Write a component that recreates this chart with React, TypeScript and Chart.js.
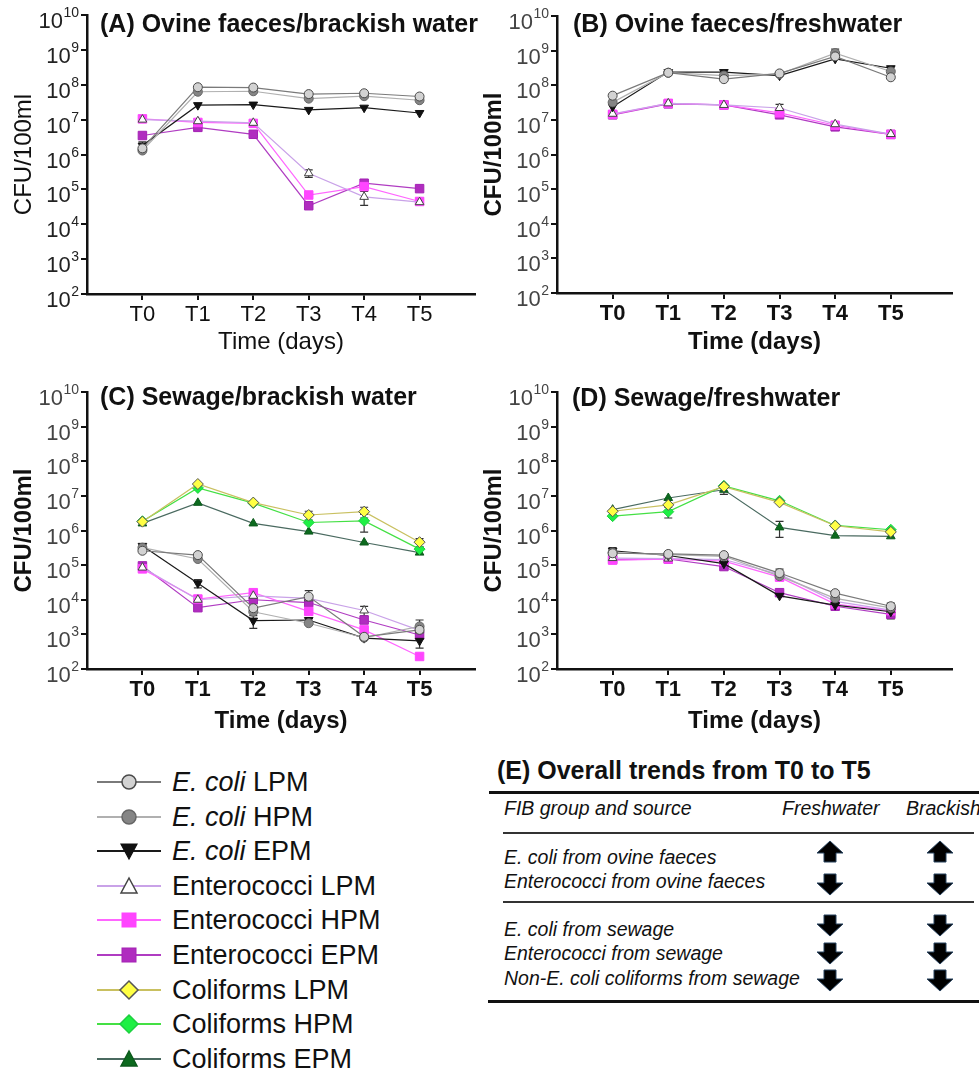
import React, { useEffect, useRef } from 'react';
import { Chart, registerables } from 'chart.js';
Chart.register(...registerables);

const FONT = "'Liberation Sans', Arial, Helvetica, sans-serif";

// ---------- data ----------
const timeLabels = ['T0', 'T1', 'T2', 'T3', 'T4', 'T5'];
const yTickValues = [1e2, 1e3, 1e4, 1e5, 1e6, 1e7, 1e8, 1e9, 1e10];

// (A) Ovine faeces / brackish water
const ecLPM_A = [1.5e6, 8.5e7, 8.3e7, 5.4e7, 5.7e7, 4.6e7];
const ecHPM_A = [1.3e6, 6.3e7, 6.5e7, 4.0e7, 4.7e7, 3.6e7];
const ecEPM_A = [1.8e6, 2.6e7, 2.7e7, 1.9e7, 2.2e7, 1.55e7];
const entLPM_A = [1.0e7, 9.0e6, 8.1e6, 2.9e5, 6.1e4, 4.3e4];
const entHPM_A = [1.05e7, 8.3e6, 7.8e6, 6.9e4, 1.2e5, 4.5e4];
const entEPM_A = [3.5e6, 6.0e6, 3.8e6, 3.4e4, 1.5e5, 1.05e5];
const entLPM_A_err = [null, null, null, 7e4, 2.6e4, null];
const ecEPM_A_err = [5e5, null, null, null, null, null];

// (B) Ovine faeces / freshwater
const ecLPM_B = [5.0e7, 2.3e8, 1.5e8, 2.2e8, 6.8e8, 1.7e8];
const ecHPM_B = [3.2e7, 2.3e8, 1.9e8, 2.1e8, 8.5e8, 2.5e8];
const ecEPM_B = [2.4e7, 2.4e8, 2.4e8, 1.9e8, 5.8e8, 3.1e8];
const entLPM_B = [1.5e7, 3.0e7, 2.7e7, 2.2e7, 7.5e6, 3.9e6];
const entHPM_B = [1.45e7, 3.0e7, 2.7e7, 1.6e7, 7.0e6, 3.8e6];
const entEPM_B = [1.4e7, 2.9e7, 2.7e7, 1.4e7, 6.3e6, 3.8e6];
const ecHPM_B_err = [null, null, null, null, 2.5e8, null];
const entLPM_B_err = [null, null, null, 6e6, null, null];

// (C) Sewage / brackish water
const ecLPM_C = [2.6e5, 1.95e5, 5.7e3, 1.23e4, 8.5e2, 1.35e3];
const ecHPM_C = [3.2e5, 1.5e5, 4.5e3, 2.1e3, 8.0e2, 1.7e3];
const ecEPM_C = [3.6e5, 3.0e4, 2.5e3, 2.6e3, 7.8e2, 6.5e2];
const entLPM_C = [8.5e4, 1.0e4, 1.3e4, 1.1e4, 4.9e3, 1.3e3];
const entHPM_C = [7.8e4, 1.05e4, 1.6e4, 4.6e3, 1.35e3, 2.3e2];
const entEPM_C = [9.5e4, 5.9e3, 1.0e4, 8.3e3, 2.6e3, 9.6e2];
const colLPM_C = [1.8e6, 2.2e7, 6.4e6, 2.8e6, 3.5e6, 4.6e5];
const colHPM_C = [1.85e6, 1.7e7, 6.2e6, 1.7e6, 1.9e6, 2.9e5];
const colEPM_C = [1.6e6, 6.3e6, 1.6e6, 9.3e5, 4.5e5, 2.3e5];
const colLPM_C_err = [null, null, null, 8e5, 1.2e6, 1.2e5];
const colHPM_C_err = [null, null, null, null, 1.0e6, null];
const ecEPM_C_err = [null, 8e3, 1.0e3, null, null, 2.5e2];
const ecLPM_C_err = [null, null, null, 6e3, null, null];
const ecHPM_C_err = [null, null, null, null, null, 9e2];
const entLPM_C_err = [null, null, null, null, 1.5e3, null];

// (D) Sewage / freshwater
const ecLPM_D = [2.2e5, 2.1e5, 1.95e5, 5.9e4, 1.55e4, 6.5e3];
const ecHPM_D = [2.3e5, 2.0e5, 1.8e5, 4.8e4, 1.1e4, 5.8e3];
const ecEPM_D = [2.6e5, 1.9e5, 1.1e5, 1.3e4, 7.0e3, 4.5e3];
const entLPM_D = [1.6e5, 1.55e5, 1.45e5, 5.4e4, 9.0e3, 5.0e3];
const entHPM_D = [1.4e5, 1.5e5, 1.3e5, 4.5e4, 7.5e3, 4.8e3];
const entEPM_D = [1.45e5, 1.5e5, 9.1e4, 1.6e4, 6.5e3, 3.8e3];
const colLPM_D = [3.6e6, 5.5e6, 1.85e7, 6.5e6, 1.37e6, 9.1e5];
const colHPM_D = [2.6e6, 3.5e6, 1.95e7, 7.2e6, 1.4e6, 1.05e6];
const colEPM_D = [4.0e6, 8.7e6, 1.5e7, 1.23e6, 7.1e5, 6.8e5];
const colEPM_D_err = [null, null, 4e6, 6e5, null, null];
const colHPM_D_err = [null, 1.2e6, null, null, null, null];
const ecEPM_D_err = [6e4, null, null, null, null, null];
const ecLPM_D_err = [null, null, null, 1.8e4, null, 1.5e3];
const entEPM_D_err = [null, null, null, null, null, 1e3];

// ---------- styles ----------
type Style = {
  pointStyle: string; radius: number; rotation: number;
  fill: string; edge: string; line: string;
};
const seriesStyle: Record<string, Style> = {
  ecLPM: { pointStyle: 'circle', radius: 4.5, rotation: 0, fill: '#d2d2d2', edge: '#4a4a4a', line: '#7a7a7a' },
  ecHPM: { pointStyle: 'circle', radius: 4.5, rotation: 0, fill: '#858585', edge: '#666666', line: '#b0b0b0' },
  ecEPM: { pointStyle: 'triangle', radius: 5, rotation: 180, fill: '#111111', edge: '#111111', line: '#1a1a1a' },
  entLPM: { pointStyle: 'triangle', radius: 5, rotation: 0, fill: '#ffffff', edge: '#444444', line: '#c9a2e8' },
  entHPM: { pointStyle: 'rect', radius: 6, rotation: 0, fill: '#ff45ff', edge: '#ff45ff', line: '#ff66ff' },
  entEPM: { pointStyle: 'rect', radius: 6, rotation: 0, fill: '#b02cbf', edge: '#a422b4', line: '#b03cc2' },
  colLPM: { pointStyle: 'rectRot', radius: 5.5, rotation: 0, fill: '#ffff44', edge: '#555555', line: '#c9c060' },
  colHPM: { pointStyle: 'rectRot', radius: 5.5, rotation: 0, fill: '#1ef044', edge: '#1ed040', line: '#44e044' },
  colEPM: { pointStyle: 'triangle', radius: 5, rotation: 0, fill: '#0c6a1e', edge: '#0c5a1c', line: '#4a6a60' },
};

type Series = { key: string; values: number[]; errors?: (number | null)[] };

type Panel = {
  id: string; title: string; left: number; top: number; width: number; height: number;
  padTop: number; padRight: number; yAxisWidth: number; xAxisHeight: number; xMax: number;
  bold: boolean; yTitlePad: number; xTitlePad: number; titleLeft: number; titleCenterY: number;
  tickColor: string; series: Series[];
};

const panels: Panel[] = [
  {
    id: 'A', title: '(A) Ovine faeces/brackish water', left: 0, top: 0, width: 490, height: 360,
    padTop: 15, padRight: 15, yAxisWidth: 87, xAxisHeight: 66, xMax: 6, bold: false,
    yTitlePad: 10, xTitlePad: 3, titleLeft: 100, titleCenterY: 23, tickColor: '#222',
    series: [
      { key: 'ecLPM', values: ecLPM_A }, { key: 'ecHPM', values: ecHPM_A },
      { key: 'ecEPM', values: ecEPM_A, errors: ecEPM_A_err },
      { key: 'entLPM', values: entLPM_A, errors: entLPM_A_err },
      { key: 'entHPM', values: entHPM_A }, { key: 'entEPM', values: entEPM_A },
    ],
  },
  {
    id: 'B', title: '(B) Ovine faeces/freshwater', left: 480, top: 0, width: 499, height: 360,
    padTop: 16, padRight: 27, yAxisWidth: 77, xAxisHeight: 67, xMax: 6.1, bold: true,
    yTitlePad: 0, xTitlePad: 3, titleLeft: 573, titleCenterY: 23, tickColor: '#444',
    series: [
      { key: 'ecLPM', values: ecLPM_B }, { key: 'ecHPM', values: ecHPM_B, errors: ecHPM_B_err },
      { key: 'ecEPM', values: ecEPM_B }, { key: 'entLPM', values: entLPM_B, errors: entLPM_B_err },
      { key: 'entHPM', values: entHPM_B }, { key: 'entEPM', values: entEPM_B },
    ],
  },
  {
    id: 'C', title: '(C) Sewage/brackish water', left: 0, top: 360, width: 490, height: 380,
    padTop: 32, padRight: 15, yAxisWidth: 87, xAxisHeight: 71, xMax: 6, bold: true,
    yTitlePad: 10, xTitlePad: 4, titleLeft: 100, titleCenterY: 396, tickColor: '#444',
    series: [
      { key: 'ecLPM', values: ecLPM_C, errors: ecLPM_C_err },
      { key: 'ecHPM', values: ecHPM_C, errors: ecHPM_C_err },
      { key: 'ecEPM', values: ecEPM_C, errors: ecEPM_C_err },
      { key: 'entLPM', values: entLPM_C, errors: entLPM_C_err },
      { key: 'entHPM', values: entHPM_C }, { key: 'entEPM', values: entEPM_C },
      { key: 'colLPM', values: colLPM_C, errors: colLPM_C_err },
      { key: 'colHPM', values: colHPM_C, errors: colHPM_C_err },
      { key: 'colEPM', values: colEPM_C },
    ],
  },
  {
    id: 'D', title: '(D) Sewage/freshwater', left: 480, top: 360, width: 499, height: 380,
    padTop: 32, padRight: 27, yAxisWidth: 77, xAxisHeight: 71, xMax: 6.1, bold: true,
    yTitlePad: 0, xTitlePad: 4, titleLeft: 572, titleCenterY: 397, tickColor: '#444',
    series: [
      { key: 'ecLPM', values: ecLPM_D, errors: ecLPM_D_err }, { key: 'ecHPM', values: ecHPM_D },
      { key: 'ecEPM', values: ecEPM_D, errors: ecEPM_D_err },
      { key: 'entLPM', values: entLPM_D }, { key: 'entHPM', values: entHPM_D },
      { key: 'entEPM', values: entEPM_D, errors: entEPM_D_err },
      { key: 'colLPM', values: colLPM_D }, { key: 'colHPM', values: colHPM_D, errors: colHPM_D_err },
      { key: 'colEPM', values: colEPM_D, errors: colEPM_D_err },
    ],
  },
];

// ---------- plugins ----------
const errorBarPlugin = {
  id: 'errorBars',
  beforeDatasetsDraw(chart: any) {
    const ctx = chart.ctx;
    const ys = chart.scales.y;
    chart.data.datasets.forEach((ds: any, i: number) => {
      const errs = ds.errors;
      if (!errs) return;
      const meta = chart.getDatasetMeta(i);
      meta.data.forEach((pt: any, j: number) => {
        const e = errs[j];
        if (e == null) return;
        const v = ds.data[j].y;
        const top = ys.getPixelForValue(v + e);
        const bot = ys.getPixelForValue(Math.max(v - e, v * 0.08));
        ctx.save();
        ctx.strokeStyle = ds.errorColor;
        ctx.lineWidth = 1.2;
        ctx.beginPath();
        ctx.moveTo(pt.x, top); ctx.lineTo(pt.x, bot);
        ctx.moveTo(pt.x - 4, top); ctx.lineTo(pt.x + 4, top);
        ctx.moveTo(pt.x - 4, bot); ctx.lineTo(pt.x + 4, bot);
        ctx.stroke();
        ctx.restore();
      });
    });
  },
};

const powLabelPlugin = {
  id: 'powLabels',
  afterDraw(chart: any, _args: any, opts: any) {
    const s = chart.scales.y;
    const ctx = chart.ctx;
    s.ticks.forEach((t: any) => {
      const p = s.getPixelForValue(t.value);
      const exp = String(Math.round(Math.log10(t.value)));
      ctx.save();
      ctx.fillStyle = opts.color;
      ctx.textBaseline = 'alphabetic';
      ctx.font = `${opts.expSize}px ${FONT}`;
      const ew = ctx.measureText(exp).width;
      const xr = s.right - opts.gap;
      ctx.textAlign = 'left';
      ctx.fillText(exp, xr - ew, p + opts.expDy);
      ctx.font = `${opts.baseSize}px ${FONT}`;
      ctx.textAlign = 'right';
      ctx.fillText('10', xr - ew - 0.5, p + opts.baseDy);
      ctx.restore();
    });
  },
};

function PanelChart({ panel }: { panel: Panel }) {
  const ref = useRef<HTMLCanvasElement | null>(null);
  useEffect(() => {
    if (!ref.current) return;
    const weight = panel.bold ? 'bold' : 'normal';
    const datasets = panel.series.map((s) => {
      const st = seriesStyle[s.key];
      return {
        label: s.key,
        data: s.values.map((v, i) => ({ x: i, y: v })),
        errors: s.errors,
        errorColor: '#333',
        borderColor: st.line,
        borderWidth: 1.2,
        backgroundColor: st.fill,
        pointBackgroundColor: st.fill,
        pointBorderColor: st.edge,
        pointBorderWidth: 1,
        pointStyle: st.pointStyle,
        pointRadius: st.radius,
        pointRotation: st.rotation,
        tension: 0,
        fill: false,
      };
    });
    const chart = new Chart(ref.current, {
      type: 'line',
      data: { datasets } as any,
      plugins: [errorBarPlugin, powLabelPlugin],
      options: {
        animation: false,
        responsive: false,
        devicePixelRatio: 1,
        layout: { padding: { left: 0, top: panel.padTop, right: panel.padRight, bottom: 0 } },
        plugins: {
          legend: { display: false },
          tooltip: { enabled: false },
          powLabels: { color: panel.tickColor, baseSize: 22, expSize: 14, gap: 8, baseDy: 13, expDy: 2 },
        } as any,
        scales: {
          x: {
            type: 'linear', min: -1, max: panel.xMax,
            afterBuildTicks: (s: any) => { s.ticks = timeLabels.map((_, i) => ({ value: i })); },
            afterFit: (s: any) => { s.height = panel.xAxisHeight; },
            ticks: {
              autoSkip: false, maxRotation: 0, padding: 2, color: '#111',
              font: { family: FONT, size: 22, weight },
              callback: (v: any) => timeLabels[Math.round(Number(v))] ?? '',
            },
            grid: { display: true, drawOnChartArea: false, drawTicks: true, tickLength: 6, color: '#111', lineWidth: 2 },
            border: { display: true, color: '#111', width: 2.5 },
            title: {
              display: true, text: 'Time (days)', color: '#111',
              font: { family: FONT, size: 24, weight, lineHeight: 1.2 },
              padding: { top: 0, bottom: panel.xTitlePad },
            },
          },
          y: {
            type: 'logarithmic', min: 1e2, max: 1e10,
            afterBuildTicks: (s: any) => { s.ticks = yTickValues.map((v) => ({ value: v })); },
            afterFit: (s: any) => { s.width = panel.yAxisWidth; },
            ticks: { autoSkip: false, callback: () => '' },
            grid: { display: true, drawOnChartArea: false, drawTicks: true, tickLength: 6, color: '#111', lineWidth: 2 },
            border: { display: true, color: '#111', width: 2.5 },
            title: {
              display: true, text: 'CFU/100ml', color: '#111',
              font: { family: FONT, size: 24, weight, lineHeight: 1.2 },
              padding: { top: panel.yTitlePad, bottom: 0 },
            },
          },
        },
      } as any,
    });
    return () => chart.destroy();
  }, [panel]);
  return (
    <canvas
      ref={ref}
      width={panel.width}
      height={panel.height}
      style={{ position: 'absolute', left: panel.left, top: panel.top, width: panel.width, height: panel.height }}
    />
  );
}

// ---------- legend ----------
const legendKeys = ['ecLPM', 'ecHPM', 'ecEPM', 'entLPM', 'entHPM', 'entEPM', 'colLPM', 'colHPM', 'colEPM'];
const legendItalic = ['E. coli', 'E. coli', 'E. coli', '', '', '', '', '', ''];
const legendText = [' LPM', ' HPM', ' EPM', 'Enterococci LPM', 'Enterococci HPM', 'Enterococci EPM', 'Coliforms LPM', 'Coliforms HPM', 'Coliforms EPM'];

function LegendMarker({ st }: { st: Style }) {
  const cx = 32, cy = 12;
  let shape: React.ReactNode = null;
  if (st.pointStyle === 'circle') {
    shape = <circle cx={cx} cy={cy} r={7} fill={st.fill} stroke={st.edge} strokeWidth={1.5} />;
  } else if (st.pointStyle === 'triangle' && st.rotation === 180) {
    shape = <polygon points={`${cx - 8},${cy - 7} ${cx + 8},${cy - 7} ${cx},${cy + 8}`} fill={st.fill} stroke={st.edge} strokeWidth={1.2} />;
  } else if (st.pointStyle === 'triangle') {
    shape = <polygon points={`${cx - 8},${cy + 7} ${cx + 8},${cy + 7} ${cx},${cy - 8}`} fill={st.fill} stroke={st.edge} strokeWidth={1.5} />;
  } else if (st.pointStyle === 'rect') {
    shape = <rect x={cx - 7} y={cy - 7} width={14} height={14} fill={st.fill} stroke={st.edge} strokeWidth={1} />;
  } else {
    shape = <polygon points={`${cx},${cy - 9} ${cx + 9},${cy} ${cx},${cy + 9} ${cx - 9},${cy}`} fill={st.fill} stroke={st.edge} strokeWidth={1.5} />;
  }
  return (
    <svg width={64} height={24} style={{ position: 'absolute', left: 0, top: 5 }}>
      <line x1={0} y1={cy} x2={64} y2={cy} stroke={st.line} strokeWidth={2.2} />
      {shape}
    </svg>
  );
}

// ---------- table ----------
const tableRows = [
  'E. coli from ovine faeces',
  'Enterococci from ovine faeces',
  'E. coli from sewage',
  'Enterococci from sewage',
  'Non-E. coli coliforms from sewage',
];
const trendFresh = ['up', 'down', 'down', 'down', 'down'];
const trendBrackish = ['up', 'down', 'down', 'down', 'down'];
const rowTextY = [857, 881, 929, 953, 978];
const rowArrowY = [851, 884, 925, 953, 980];

function Arrow({ dir, cx, cy }: { dir: string; cx: number; cy: number }) {
  const pts = dir === 'up'
    ? '13,0 26,12 19,12 19,21 7,21 7,12 0,12'
    : '7,0 19,0 19,9 26,9 13,21 0,9 7,9';
  return (
    <svg width={28} height={23} style={{ position: 'absolute', left: cx - 13, top: cy - 11 }}>
      <polygon points={pts} fill="#000" stroke="#27425e" strokeWidth={1} transform="translate(1,1)" />
    </svg>
  );
}

export default function App() {
  const tableFont: React.CSSProperties = { position: 'absolute', fontFamily: FONT, fontStyle: 'italic', fontSize: 19.5, color: '#111', whiteSpace: 'nowrap', lineHeight: '24px' };
  return (
    <div style={{ position: 'absolute', left: 0, top: 0, width: 979, height: 1069, overflow: 'hidden', background: '#fff' }}>
      {panels.map((p) => <PanelChart key={p.id} panel={p} />)}
      {panels.map((p) => (
        <div key={'t' + p.id} style={{ position: 'absolute', left: p.titleLeft, top: p.titleCenterY - 15, fontFamily: FONT, fontWeight: 'bold', fontSize: 25, lineHeight: '30px', color: '#111', whiteSpace: 'nowrap' }}>
          {p.title}
        </div>
      ))}
      {legendKeys.map((k, i) => (
        <div key={k} style={{ position: 'absolute', left: 97, top: 765 + i * 34.6, height: 34, width: 360 }}>
          <LegendMarker st={seriesStyle[k]} />
          <div style={{ position: 'absolute', left: 75, top: 0, fontFamily: FONT, fontSize: 27, lineHeight: '34px', color: '#111', whiteSpace: 'nowrap' }}>
            {legendItalic[i] ? <i>{legendItalic[i]}</i> : null}{legendText[i]}
          </div>
        </div>
      ))}
      <div style={{ position: 'absolute', left: 497, top: 755, fontFamily: FONT, fontWeight: 'bold', fontSize: 25, lineHeight: '30px', color: '#111', whiteSpace: 'nowrap' }}>
        (E) Overall trends from T0 to T5
      </div>
      <div style={{ position: 'absolute', left: 489, top: 791, width: 490, height: 3, background: '#111' }} />
      <div style={{ ...tableFont, left: 504, top: 796 }}>FIB group and source</div>
      <div style={{ ...tableFont, left: 782, top: 796 }}>Freshwater</div>
      <div style={{ ...tableFont, left: 906, top: 796 }}>Brackish</div>
      <div style={{ position: 'absolute', left: 503, top: 832, width: 471, height: 1.5, background: '#333' }} />
      <div style={{ position: 'absolute', left: 503, top: 901, width: 471, height: 1.5, background: '#333' }} />
      <div style={{ position: 'absolute', left: 488, top: 1000, width: 491, height: 3, background: '#111' }} />
      {tableRows.map((r, i) => (
        <div key={r} style={{ ...tableFont, left: 504, top: rowTextY[i] - 12 }}>{r}</div>
      ))}
      {trendFresh.map((d, i) => <Arrow key={'f' + i} dir={d} cx={829} cy={rowArrowY[i]} />)}
      {trendBrackish.map((d, i) => <Arrow key={'b' + i} dir={d} cx={939} cy={rowArrowY[i]} />)}
    </div>
  );
}
